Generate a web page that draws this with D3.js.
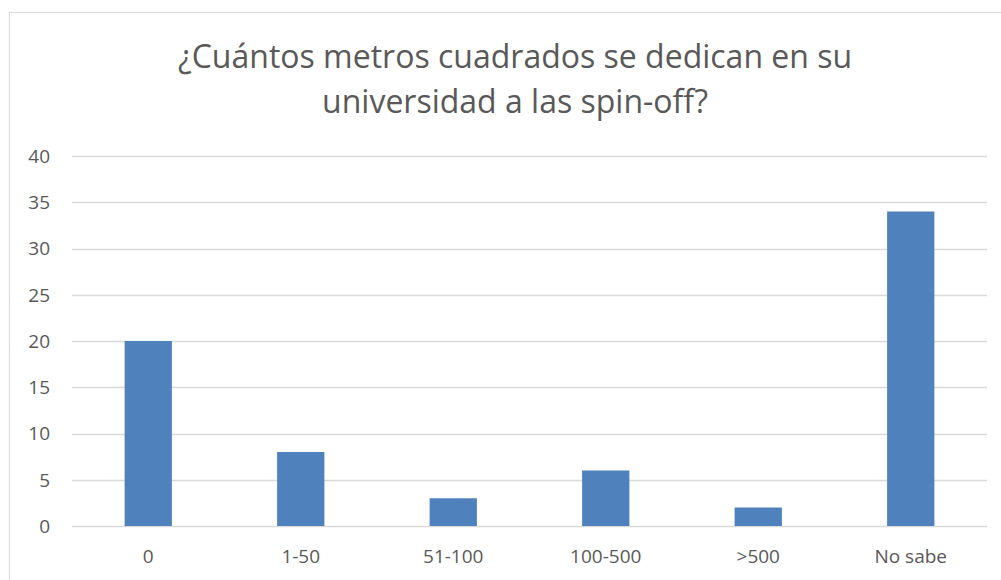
<!DOCTYPE html>
<html>
<head>
<meta charset="utf-8">
<script src="https://cdn.jsdelivr.net/npm/d3@7"></script>
<style>
	body { margin: 0; background: #fff; }
	svg text { font-family: "Open Sans", "Liberation Sans", sans-serif; fill: #595959; }
</style>
</head>
<body>
<svg id="chart" width="1001" height="580"></svg>
<script>
var categories = ['0', '1-50', '51-100', '100-500', '>500', 'No sabe'];
var values = [20, 8, 3, 6, 2, 34];
var yTicks = [0, 5, 10, 15, 20, 25, 30, 35, 40];
var titleLines = ['¿Cuántos metros cuadrados se dedican en su', 'universidad a las spin-off?'];

var width = 1001, height = 580;
var margin = { top: 156, right: 14, bottom: 54, left: 72 };

var svg = d3.select('#chart');

// chart area border
svg.append('rect')
	.attr('x', 9.5)
	.attr('y', 12.5)
	.attr('width', 1010)
	.attr('height', 600)
	.attr('fill', 'none')
	.attr('stroke', '#d9d9d9');

var x = d3.scaleBand()
	.domain(categories)
	.range([margin.left, width - margin.right]);

var y = d3.scaleLinear()
	.domain([0, 40])
	.range([height - margin.bottom, margin.top]);

// gridlines
svg.append('g').selectAll('line')
	.data(yTicks).enter().append('line')
	.attr('x1', margin.left)
	.attr('x2', width - margin.right)
	.attr('y1', function(d) { return Math.round(y(d)) + 0.5; })
	.attr('y2', function(d) { return Math.round(y(d)) + 0.5; })
	.attr('stroke', '#d9d9d9')
	.attr('stroke-width', 1.3);

// bars
var barWidth = x.bandwidth() * 0.31;
svg.append('g').selectAll('rect')
	.data(values).enter().append('rect')
	.attr('x', function(d, i) { return x(categories[i]) + (x.bandwidth() - barWidth) / 2; })
	.attr('y', function(d) { return y(d); })
	.attr('width', barWidth)
	.attr('height', function(d) { return y(0) - y(d); })
	.attr('fill', '#4f81bd');

// y axis labels
svg.append('g').selectAll('text')
	.data(yTicks).enter().append('text')
	.attr('x', 50)
	.attr('y', function(d) { return y(d); })
	.attr('dy', '0.36em')
	.attr('text-anchor', 'end')
	.style('font-size', '19px')
	.text(function(d) { return d; });

// x axis labels
svg.append('g').selectAll('text')
	.data(categories).enter().append('text')
	.attr('x', function(d) { return x(d) + x.bandwidth() / 2; })
	.attr('y', 563)
	.attr('text-anchor', 'middle')
	.style('font-size', '19px')
	.text(function(d) { return d; });

// title
svg.append('g').selectAll('text')
	.data(titleLines).enter().append('text')
	.attr('x', 515)
	.attr('y', function(d, i) { return 68 + i * 45; })
	.attr('text-anchor', 'middle')
	.style('font-size', '32px')
	.text(function(d) { return d; });
</script>
</body>
</html>
